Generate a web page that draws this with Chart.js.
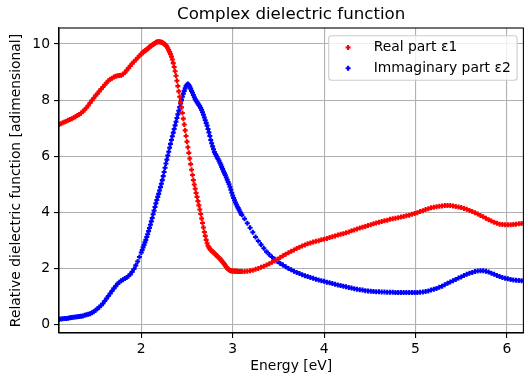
<!DOCTYPE html>
<html>
<head>
<meta charset="utf-8">
<script src="https://cdn.jsdelivr.net/npm/chart.js@4/dist/chart.umd.min.js"></script>
<style>
html, body { margin: 0; padding: 0; background: #ffffff; }
#wrap { width: 528px; height: 383px; }
</style>
</head>
<body>
<div id="wrap"><canvas id="c" width="528" height="383"></canvas></div>
<script>
// Photon energy grid [eV]
const energy = [
  1.10,1.12,1.14,1.16,1.18,1.20,1.22,1.24,1.26,1.28,
  1.30,1.32,1.34,1.36,1.38,1.40,1.42,1.44,1.46,1.48,
  1.50,1.52,1.54,1.56,1.58,1.60,1.62,1.64,1.66,1.68,
  1.70,1.72,1.74,1.76,1.78,1.80,1.82,1.84,1.86,1.88,
  1.90,1.92,1.94,1.96,1.98,2.00,
  2.01,2.02,2.03,2.04,2.05,2.06,2.07,2.08,2.09,2.10,
  2.11,2.12,2.13,2.14,2.15,2.16,2.17,2.18,2.19,2.20,
  2.21,2.22,2.23,2.24,2.25,2.26,2.27,2.28,2.29,2.30,
  2.31,2.32,2.33,2.34,2.35,2.36,2.37,2.38,2.39,2.40,
  2.41,2.42,2.43,2.44,2.45,2.46,2.47,2.48,2.49,2.50,
  2.51,2.52,2.53,2.54,2.55,2.56,2.57,2.58,2.59,2.60,
  2.61,2.62,2.63,2.64,2.65,2.66,2.67,2.68,2.69,2.70,
  2.71,2.72,2.73,2.74,2.75,2.76,2.77,2.78,2.79,2.80,
  2.81,2.82,2.83,2.84,2.85,2.86,2.87,2.88,2.89,2.90,
  2.91,2.92,2.93,2.94,2.95,2.96,2.97,2.98,2.99,3.00,
  3.01,3.02,3.03,3.04,3.05,3.06,3.07,3.08,3.09,3.10,
  3.13,3.16,3.19,3.22,3.25,3.28,3.31,3.34,3.37,3.40,
  3.43,3.46,3.49,3.52,3.55,3.58,3.61,3.64,3.67,3.70,
  3.73,3.76,3.79,3.82,3.85,3.88,3.91,3.94,3.97,4.00,
  4.03,4.06,4.09,4.12,4.15,4.18,4.21,4.24,4.27,4.30,
  4.33,4.36,4.39,4.42,4.45,4.48,4.51,4.54,4.57,4.60,
  4.63,4.66,4.69,4.72,4.75,4.78,4.81,4.84,4.87,4.90,
  4.93,4.96,4.99,5.02,5.05,5.08,5.11,5.14,5.17,5.20,
  5.23,5.26,5.29,5.32,5.35,5.38,5.41,5.44,5.47,5.50,
  5.53,5.56,5.59,5.62,5.65,5.68,5.71,5.74,5.77,5.80,
  5.83,5.86,5.89,5.92,5.95,5.98,6.01,6.04,6.07,6.10,
  6.13,6.16
];

// Real part of the dielectric function, eps1
const realPart = [
  7.13,7.16,7.19,7.22,7.25,7.28,7.31,7.34,7.37,7.41,
  7.45,7.49,7.53,7.59,7.66,7.73,7.81,7.90,7.99,8.07,
  8.16,8.23,8.31,8.39,8.47,8.55,8.62,8.69,8.74,8.78,
  8.82,8.85,8.87,8.88,8.89,8.92,8.98,9.06,9.14,9.22,
  9.30,9.37,9.44,9.51,9.58,9.64,
  9.68,9.71,9.73,9.76,9.78,9.81,9.83,9.86,9.89,9.92,
  9.94,9.96,9.99,10.01,10.03,10.05,10.07,10.08,10.08,10.08,
  10.07,10.06,10.05,10.03,10.01,9.98,9.95,9.91,9.85,9.78,
  9.71,9.64,9.55,9.45,9.32,9.18,9.03,8.87,8.69,8.50,
  8.31,8.12,7.93,7.74,7.54,7.34,7.13,6.92,6.72,6.52,
  6.32,6.12,5.92,5.72,5.52,5.33,5.15,4.99,4.84,4.69,
  4.55,4.40,4.25,4.10,3.94,3.78,3.62,3.46,3.30,3.16,
  3.02,2.90,2.81,2.75,2.70,2.66,2.63,2.60,2.57,2.54,
  2.51,2.47,2.44,2.41,2.38,2.35,2.31,2.27,2.23,2.19,
  2.15,2.10,2.05,2.01,1.98,1.95,1.93,1.92,1.91,1.91,
  1.91,1.90,1.90,1.90,1.90,1.89,1.89,1.89,1.89,1.89,
  1.89,1.90,1.92,1.94,1.97,2.00,2.04,2.08,2.12,2.17,
  2.22,2.27,2.33,2.39,2.45,2.51,2.56,2.61,2.66,2.71,
  2.76,2.80,2.84,2.88,2.91,2.94,2.97,2.99,3.02,3.04,
  3.07,3.10,3.13,3.16,3.19,3.22,3.24,3.27,3.30,3.34,
  3.37,3.41,3.44,3.47,3.50,3.53,3.56,3.59,3.62,3.65,
  3.67,3.70,3.72,3.75,3.77,3.79,3.81,3.83,3.85,3.88,
  3.90,3.93,3.96,3.99,4.03,4.06,4.10,4.13,4.16,4.18,
  4.20,4.22,4.23,4.24,4.24,4.24,4.23,4.21,4.19,4.17,
  4.14,4.11,4.07,4.03,3.99,3.94,3.89,3.84,3.79,3.74,
  3.69,3.65,3.61,3.58,3.57,3.56,3.56,3.56,3.57,3.58,
  3.59,3.60
];

// Imaginary part of the dielectric function, eps2
const imagPart = [
  0.19,0.20,0.21,0.22,0.22,0.23,0.24,0.25,0.26,0.27,
  0.28,0.29,0.30,0.31,0.33,0.35,0.37,0.39,0.42,0.46,
  0.51,0.56,0.62,0.68,0.75,0.84,0.93,1.02,1.11,1.20,
  1.29,1.37,1.45,1.51,1.56,1.60,1.64,1.68,1.73,1.79,
  1.88,1.98,2.11,2.25,2.41,2.57,
  2.66,2.75,2.84,2.93,3.02,3.12,3.22,3.33,3.44,3.56,
  3.68,3.80,3.93,4.06,4.19,4.32,4.44,4.55,4.66,4.78,
  4.90,5.02,5.15,5.29,5.44,5.59,5.74,5.88,6.02,6.16,
  6.30,6.44,6.58,6.71,6.84,6.97,7.10,7.23,7.36,7.49,
  7.62,7.75,7.88,8.00,8.12,8.23,8.33,8.42,8.50,8.55,
  8.57,8.54,8.48,8.41,8.33,8.26,8.18,8.10,8.03,7.98,
  7.93,7.88,7.83,7.78,7.72,7.65,7.57,7.48,7.38,7.28,
  7.19,7.09,6.97,6.85,6.72,6.58,6.46,6.35,6.25,6.15,
  6.08,6.02,5.96,5.90,5.84,5.77,5.70,5.62,5.54,5.46,
  5.39,5.32,5.24,5.16,5.08,5.00,4.91,4.81,4.70,4.60,
  4.51,4.43,4.35,4.28,4.21,4.15,4.09,4.02,3.96,3.91,
  3.77,3.61,3.45,3.29,3.12,2.98,2.85,2.72,2.60,2.50,
  2.41,2.33,2.25,2.18,2.12,2.06,2.00,1.95,1.90,1.86,
  1.82,1.78,1.74,1.71,1.68,1.65,1.62,1.59,1.56,1.54,
  1.51,1.49,1.46,1.44,1.41,1.39,1.37,1.35,1.32,1.30,
  1.28,1.26,1.24,1.23,1.21,1.20,1.19,1.18,1.17,1.17,
  1.16,1.16,1.15,1.15,1.15,1.14,1.14,1.14,1.14,1.14,
  1.14,1.14,1.14,1.14,1.15,1.16,1.18,1.20,1.23,1.26,
  1.29,1.33,1.37,1.42,1.47,1.52,1.56,1.61,1.66,1.70,
  1.75,1.79,1.83,1.86,1.89,1.91,1.92,1.92,1.90,1.87,
  1.83,1.79,1.75,1.71,1.68,1.65,1.63,1.61,1.59,1.58,
  1.57,1.56
];

const xTicks = [2, 3, 4, 5, 6];
const yTicks = [0, 2, 4, 6, 8, 10];
const seriesLabels = ['Real part ε1', 'Immaginary part ε2'];
const seriesColors = ['#ff0000', '#0000ff'];

const FONT = "'DejaVu Sans', sans-serif";
const LABEL_SIZE = 13.89;
const MARKER = { pointStyle: 'cross', radius: 2.5, borderWidth: 2.1 };

function points(values) {
  return energy.map((e, i) => ({ x: e, y: values[i] }));
}

// Centres the title over the plot area, redraws the full axes frame on top
// of the markers and paints the legend box in the upper right corner.
const frameAndLegend = {
  id: 'frameAndLegend',
  afterLayout(chart) {
    const a = chart.chartArea, t = chart.titleBlock;
    if (t) { t.left = a.left; t.right = a.right; t.width = a.right - a.left; }
  },
  afterDatasetsDraw(chart) {
    const ctx = chart.ctx, a = chart.chartArea;
    ctx.save();
    ctx.strokeStyle = '#000000';
    ctx.lineWidth = 1.1;
    ctx.strokeRect(a.left, a.top, a.right - a.left, a.bottom - a.top);

    ctx.font = LABEL_SIZE + 'px ' + FONT;
    const sets = chart.data.datasets;
    let textW = 0;
    sets.forEach(d => { textW = Math.max(textW, ctx.measureText(d.label).width); });
    const right = a.right - 6.3, top = a.top + 7.7;
    const w = 45 + textW + 6.3, h = 44.6, left = right - w, r = 3;
    ctx.beginPath();
    ctx.moveTo(left + r, top);
    ctx.lineTo(right - r, top);
    ctx.arcTo(right, top, right, top + r, r);
    ctx.lineTo(right, top + h - r);
    ctx.arcTo(right, top + h, right - r, top + h, r);
    ctx.lineTo(left + r, top + h);
    ctx.arcTo(left, top + h, left, top + h - r, r);
    ctx.lineTo(left, top + r);
    ctx.arcTo(left, top, left + r, top, r);
    ctx.closePath();
    ctx.fillStyle = 'rgba(255,255,255,0.8)';
    ctx.fill();
    ctx.strokeStyle = '#cccccc';
    ctx.lineWidth = 1.1;
    ctx.stroke();

    sets.forEach((d, i) => {
      const cy = top + 11.8 + i * 20.7;
      ctx.strokeStyle = d.borderColor;
      ctx.fillStyle = d.backgroundColor;
      ctx.lineWidth = MARKER.borderWidth;
      Chart.helpers.drawPoint(ctx, {
        pointStyle: MARKER.pointStyle,
        radius: MARKER.radius,
        borderWidth: MARKER.borderWidth,
        rotation: 0
      }, left + 19.4, cy);
      ctx.fillStyle = '#000000';
      ctx.textBaseline = 'middle';
      ctx.textAlign = 'left';
      ctx.fillText(d.label, left + 45, cy);
    });
    ctx.restore();
  }
};

function makeDataset(i, values) {
  return {
    label: seriesLabels[i],
    data: points(values),
    pointStyle: MARKER.pointStyle,
    pointRadius: MARKER.radius,
    pointHoverRadius: MARKER.radius,
    pointBorderWidth: MARKER.borderWidth,
    borderColor: seriesColors[i],
    backgroundColor: seriesColors[i],
    showLine: false
  };
}

const gridStyle = { color: '#b0b0b0', lineWidth: 1.1, tickColor: '#000000', tickLength: 5, tickWidth: 1.1 };

new Chart(document.getElementById('c'), {
  type: 'scatter',
  data: { datasets: [makeDataset(0, realPart), makeDataset(1, imagPart)] },
  options: {
    responsive: false,
    animation: false,
    devicePixelRatio: 1,
    layout: { padding: { left: 0, right: 1, top: 0, bottom: 0 } },
    plugins: {
      legend: { display: false },
      tooltip: { enabled: false },
      title: {
        display: true,
        text: 'Complex dielectric function',
        color: '#000000',
        font: { family: FONT, size: 16.67, weight: 'normal' },
        padding: { top: 4.5, bottom: 3.5 }
      }
    },
    scales: {
      x: {
        type: 'linear',
        min: 1.1,
        max: 6.18,
        afterBuildTicks: s => { s.ticks = xTicks.map(v => ({ value: v })); },
        afterFit: s => { s.height = 50; },
        grid: gridStyle,
        border: { display: true, color: '#000000', width: 1.1 },
        ticks: { color: '#000000', font: { family: FONT, size: LABEL_SIZE }, padding: 3, maxRotation: 0 },
        title: { display: true, text: 'Energy [eV]', color: '#000000', font: { family: FONT, size: LABEL_SIZE }, padding: { top: 0, bottom: 8 } }
      },
      y: {
        type: 'linear',
        min: -0.30,
        max: 10.57,
        afterBuildTicks: s => { s.ticks = yTicks.map(v => ({ value: v })); },
        afterFit: s => { s.width = 59; },
        grid: gridStyle,
        border: { display: true, color: '#000000', width: 1.1 },
        ticks: { color: '#000000', font: { family: FONT, size: LABEL_SIZE }, padding: 4 },
        title: { display: true, text: 'Relative dielectric function [adimensional]', color: '#000000', font: { family: FONT, size: LABEL_SIZE }, padding: { top: 8.5, bottom: 0 } }
      }
    }
  },
  plugins: [frameAndLegend]
});
</script>
</body>
</html>
